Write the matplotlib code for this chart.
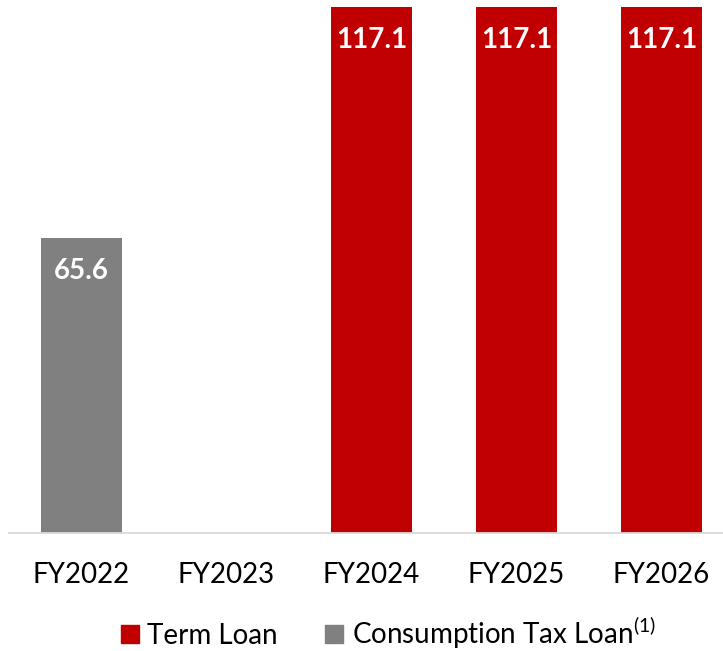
import numpy as np
import matplotlib
matplotlib.use("Agg")
import matplotlib.pyplot as plt
from matplotlib.patches import Patch

plt.rcParams.update({
    "font.family": ["Lato", "DejaVu Sans"],
    "mathtext.fontset": "custom",
    "mathtext.rm": "Lato",
})

years = ["FY2022", "FY2023", "FY2024", "FY2025", "FY2026"]
term_loan = [np.nan, np.nan, 117.1, 117.1, 117.1]
consumption_tax_loan = [65.6, np.nan, np.nan, np.nan, np.nan]

RED = "#C00000"
GREY = "#808080"
AXIS = "#D9D9D9"

fig = plt.figure(figsize=(7.23, 6.51), dpi=100)
ax = fig.add_axes([9 / 723, 118.5 / 651, 725 / 723, 532.5 / 651])

x = np.arange(len(years))
w = 0.56
ax.bar(x, consumption_tax_loan, width=w, color=GREY)
ax.bar(x, term_loan, width=w, color=RED)

for xi, v in zip(x, consumption_tax_loan):
    if not np.isnan(v):
        ax.annotate(f"{v:.1f}", (xi, v), xytext=(0, -24), textcoords="offset points",
                    ha="center", va="center", color="white", fontsize=20, fontweight="bold")
for xi, v in zip(x, term_loan):
    if not np.isnan(v):
        ax.annotate(f"{v:.1f}", (xi, v), xytext=(0, -24), textcoords="offset points",
                    ha="center", va="center", color="white", fontsize=20, fontweight="bold")

ax.set_xlim(-0.5, len(years) - 0.5)
ax.set_ylim(0, 118.6)
ax.set_xticks(x)
ax.set_xticklabels(years, fontsize=20)
ax.tick_params(axis="x", length=0, pad=21)
ax.set_yticks([])
for side in ["top", "right", "left"]:
    ax.spines[side].set_visible(False)
ax.spines["bottom"].set_color(AXIS)
ax.spines["bottom"].set_linewidth(1.3)

# legend sits right at the bottom edge, as in the source slide
handles = [Patch(color=RED, label="Term Loan"),
           Patch(color=GREY, label="Consumption Tax Loan$^{\\mathrm{(1)}}$")]
fig.legend(handles=handles, loc="center", bbox_to_anchor=(0.537, 0.028), ncol=2,
           frameon=False, fontsize=20, handlelength=0.65, handleheight=0.65,
           handletextpad=0.3, columnspacing=1.7, borderpad=0, borderaxespad=0)

fig.savefig("out.png", dpi=100)
